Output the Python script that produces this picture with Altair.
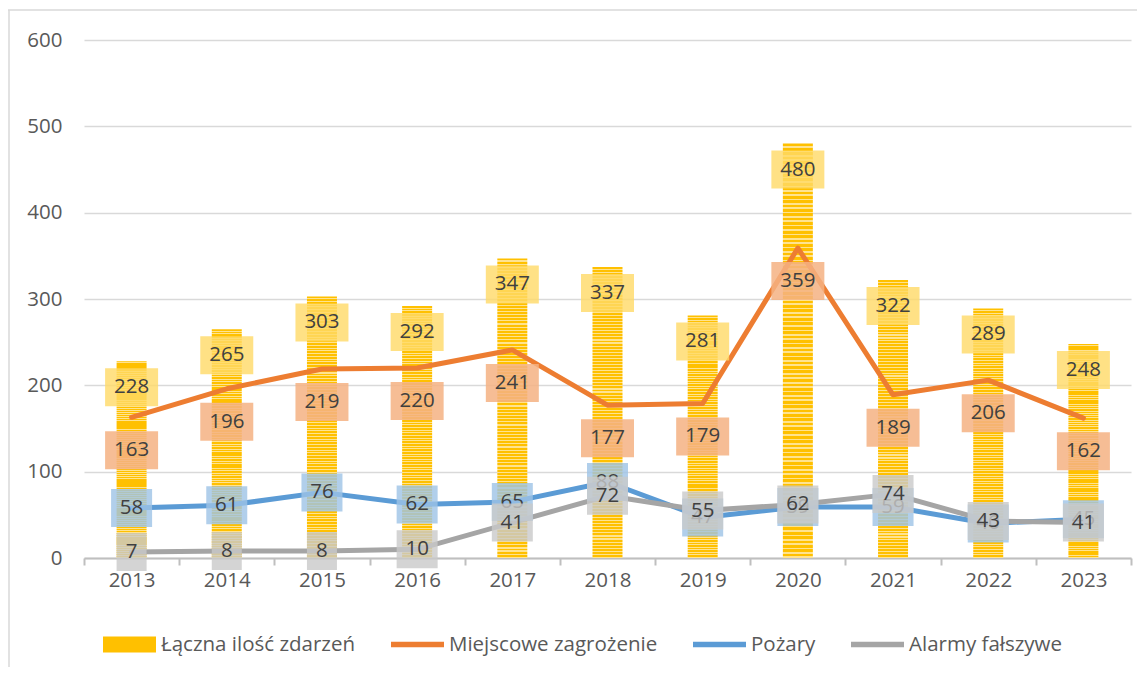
import altair as alt
import pandas as pd

years = ["2013", "2014", "2015", "2016", "2017", "2018", "2019", "2020", "2021", "2022", "2023"]
total = [228, 265, 303, 292, 347, 337, 281, 480, 322, 289, 248]
miejscowe = [163, 196, 219, 220, 241, 177, 179, 359, 189, 206, 162]
pozary = [58, 61, 76, 62, 65, 88, 47, 59, 59, 40, 45]
alarmy = [7, 8, 8, 10, 41, 72, 55, 62, 74, 43, 41]
names = ["Łączna ilość zdarzeń", "Miejscowe zagrożenie", "Pożary", "Alarmy fałszywe"]

YEL = "#FFC000"
ORANGE = "#ED7D31"
BLUE = "#5B9BD5"
GRAY = "#A5A5A5"
FONT = "Open Sans"
FS = 20.5

df = pd.DataFrame({"year": years, "total": total, "miej": miejscowe,
                   "poz": pozary, "alarm": alarmy})
long = pd.DataFrame({
    "year": years * 4,
    "value": total + miejscowe + pozary + alarmy,
    "series": sum([[n] * len(years) for n in names], []),
})

# striped fill (style only)
stops = []
n = 95
for i in range(n):
    a, b, c = i / n, (i + 0.62) / n, (i + 1) / n
    stops += [{"offset": a, "color": YEL}, {"offset": b, "color": YEL},
              {"offset": b, "color": "#FFE38F"}, {"offset": c, "color": "#FFE38F"}]
stripes = alt.LinearGradient(gradient="linear", stops=stops, x1=0, x2=0, y1=0, y2=1)

xaxis = alt.Axis(labelAngle=0, domainColor="#BFBFBF", domainWidth=2, tickColor="#BFBFBF",
                 tickWidth=2, tickSize=7, tickBand="extent", labelPadding=5,
                 labelFont=FONT, labelFontSize=FS, labelColor="#595959", grid=False)
X = alt.X("year:N", sort=years, title=None,
          scale=alt.Scale(paddingInner=0, paddingOuter=0), axis=xaxis)
yscale = alt.Scale(domain=[0, 600], nice=False, zero=True)
yaxis = alt.Axis(values=[0, 100, 200, 300, 400, 500, 600], grid=True, gridColor="#D9D9D9",
                 gridWidth=1.5, domain=False, ticks=False, labelPadding=22,
                 labelFont=FONT, labelFontSize=FS, labelColor="#595959")


def Y(f):
    return alt.Y(f + ":Q", scale=yscale, axis=yaxis, title=None)


base = alt.Chart(df)

bars = base.mark_bar(width=30, color=stripes).encode(x=X, y=Y("total"))


def line(field, color):
    return base.mark_line(color=color, strokeWidth=5, strokeCap="round",
                          strokeJoin="round").encode(x=X, y=Y(field))


def labels(field, box_color, box_opacity, dy):
    out = []
    for cond, w in [(f"datum.{field} >= 100", 53),
                    (f"datum.{field} >= 10 && datum.{field} < 100", 41),
                    (f"datum.{field} < 10", 30)]:
        out.append(base.transform_filter(cond).mark_bar(
            width=w, color=box_color, opacity=box_opacity,
            yOffset=dy - 19, y2Offset=dy + 19).encode(
            x=X, y=Y(field), y2=alt.Y2(field + ":Q")))
    out.append(base.mark_text(font=FONT, fontSize=FS, color="#404040", dy=dy,
                              baseline="middle", align="center").encode(
        x=X, y=Y(field), text=alt.Text(field + ":Q")))
    return out


def leg():
    return alt.Legend(orient="none", legendX=19, legendY=578, direction="horizontal",
                      title=None, symbolSize=2809, symbolOpacity=1,
                      labelFont=FONT, labelFontSize=FS, labelColor="#595959",
                      labelLimit=0, columnPadding=35, labelOffset=5, padding=0,
                      symbolStrokeWidth=0)


legend_layer = alt.Chart(long).mark_point(filled=True, opacity=0, size=1).encode(
    x=X, y=Y("value"),
    color=alt.Color("series:N", scale=alt.Scale(domain=names, range=[YEL, ORANGE, BLUE, GRAY]),
                    legend=leg()),
    shape=alt.Shape("series:N", scale=alt.Scale(domain=names, range=[
        "M-1,-0.3H1V0.3H-1Z", "M-1,-0.1H1V0.1H-1Z", "M-1,-0.1H1V0.1H-1Z", "M-1,-0.1H1V0.1H-1Z"]),
        legend=leg()),
)

frame = pd.DataFrame({"k": [0]})
border_v = alt.Chart(frame).mark_rule(color="#D9D9D9", strokeWidth=1.5).encode(
    x=alt.value(-75), y=alt.value(-30), y2=alt.value(640))
border_h = alt.Chart(frame).mark_rule(color="#D9D9D9", strokeWidth=1.5).encode(
    x=alt.value(-76), x2=alt.value(1060), y=alt.value(-30))

layers = [bars, line("miej", ORANGE), line("poz", BLUE), line("alarm", GRAY)]
layers += labels("total", "#FFD966", 0.8, 26)
layers += labels("miej", "#F4B183", 0.85, 33)
layers += labels("poz", "#9DC3E6", 0.8, 0)
layers += labels("alarm", "#C9C9C9", 0.8, 0)
layers += [legend_layer, border_v, border_h]

chart = alt.layer(*layers).properties(
    width=1047, height=518,
    autosize=alt.AutoSizeParams(type="none"),
    padding={"left": 76, "top": 32, "right": 6, "bottom": 109},
    background="white",
).configure_view(stroke=None)

chart.save("out.html", embed_options={"renderer": "svg", "actions": False})
